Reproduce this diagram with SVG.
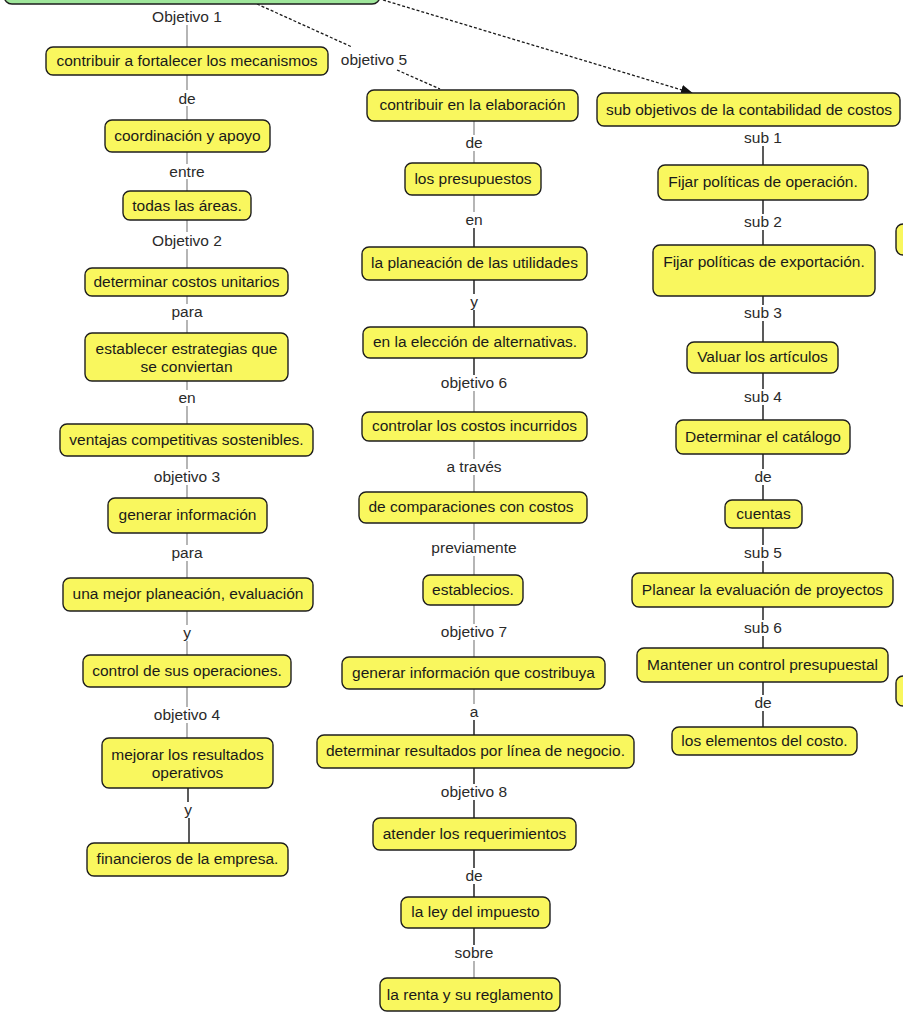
<svg xmlns="http://www.w3.org/2000/svg" width="903" height="1013" viewBox="0 0 903 1013">
<defs>
<marker id="ah" markerWidth="12" markerHeight="10" refX="11" refY="5" orient="auto" markerUnits="userSpaceOnUse">
<path d="M0,0 L12,5 L0,10 Z" fill="#111"/>
</marker>
</defs>
<style>
text{font-family:"Liberation Sans",Arial,sans-serif;font-size:15.5px;text-anchor:middle;fill:#1a1a1a}
.n rect{fill:#f9f75e;stroke:#1e1e1e;stroke-width:1.4}
.root rect{fill:#9fe69b;stroke:#1e1e1e;stroke-width:1.4}
.lab text{fill:#2a2a2a}
.g{stroke:#8e8e8e;stroke-width:1.3;fill:none}
.k{stroke:#151515;stroke-width:1.4;fill:none}
.d{stroke:#1a1a1a;stroke-width:1.3;stroke-dasharray:3 2;fill:none}
</style>
<rect width="903" height="1013" fill="#ffffff"/>

<g id="connectors">
<line class="d" x1="257" y1="4" x2="352" y2="47"/>
<line class="d" x1="397" y1="70" x2="440" y2="89"/>
<line class="d" x1="383" y1="0" x2="692" y2="93" marker-end="url(#ah)"/>
<line class="g" x1="187" y1="25" x2="187" y2="47"/>
<line class="g" x1="187" y1="75" x2="187" y2="90"/>
<line class="g" x1="187" y1="106" x2="187" y2="120"/>
<line class="g" x1="187" y1="152" x2="187" y2="164"/>
<line class="g" x1="187" y1="179" x2="187" y2="191"/>
<line class="g" x1="187" y1="220" x2="187" y2="232"/>
<line class="g" x1="187" y1="249" x2="187" y2="268"/>
<line class="g" x1="187" y1="296" x2="187" y2="304"/>
<line class="g" x1="187" y1="320" x2="187" y2="333"/>
<line class="g" x1="187" y1="381" x2="187" y2="390"/>
<line class="g" x1="187" y1="406" x2="187" y2="424"/>
<line class="g" x1="187" y1="456" x2="187" y2="469"/>
<line class="g" x1="187" y1="485" x2="187" y2="498"/>
<line class="g" x1="187" y1="533" x2="187" y2="545"/>
<line class="g" x1="187" y1="561" x2="187" y2="578"/>
<line class="g" x1="187" y1="611" x2="187" y2="625"/>
<line class="g" x1="187" y1="641" x2="187" y2="655"/>
<line class="g" x1="187" y1="687" x2="187" y2="707"/>
<line class="g" x1="187" y1="723" x2="187" y2="738"/>
<line class="k" x1="188" y1="788" x2="188" y2="802"/>
<line class="k" x1="189" y1="818" x2="189" y2="843"/>
<line class="g" x1="474" y1="121" x2="474" y2="135"/>
<line class="g" x1="474" y1="151" x2="474" y2="163"/>
<line class="g" x1="474" y1="195" x2="474" y2="212"/>
<line class="k" x1="474" y1="228" x2="474" y2="247"/>
<line class="k" x1="474" y1="280" x2="474" y2="294"/>
<line class="k" x1="474" y1="310" x2="474" y2="327"/>
<line class="k" x1="474" y1="358" x2="474" y2="375"/>
<line class="g" x1="474" y1="391" x2="474" y2="412"/>
<line class="g" x1="474" y1="441" x2="474" y2="459"/>
<line class="g" x1="474" y1="475" x2="474" y2="492"/>
<line class="g" x1="474" y1="523" x2="474" y2="540"/>
<line class="g" x1="474" y1="556" x2="474" y2="575"/>
<line class="g" x1="474" y1="605" x2="474" y2="624"/>
<line class="g" x1="474" y1="640" x2="474" y2="657"/>
<line class="g" x1="474" y1="689" x2="474" y2="704"/>
<line class="k" x1="474" y1="720" x2="474" y2="735"/>
<line class="k" x1="474" y1="768" x2="474" y2="784"/>
<line class="k" x1="474" y1="800" x2="474" y2="818"/>
<line class="k" x1="474" y1="850" x2="474" y2="868"/>
<line class="k" x1="474" y1="884" x2="474" y2="897"/>
<line class="k" x1="474" y1="928" x2="474" y2="945"/>
<line class="g" x1="474" y1="961" x2="474" y2="978"/>
<line class="k" x1="763" y1="146" x2="763" y2="165"/>
<line class="k" x1="763" y1="200" x2="763" y2="214"/>
<line class="k" x1="763" y1="230" x2="763" y2="245"/>
<line class="k" x1="763" y1="296" x2="763" y2="305"/>
<line class="k" x1="763" y1="321" x2="763" y2="342"/>
<line class="k" x1="763" y1="373" x2="763" y2="389"/>
<line class="k" x1="763" y1="405" x2="763" y2="420"/>
<line class="k" x1="763" y1="454" x2="763" y2="469"/>
<line class="k" x1="763" y1="485" x2="763" y2="500"/>
<line class="k" x1="763" y1="528" x2="763" y2="545"/>
<line class="k" x1="763" y1="561" x2="763" y2="573"/>
<line class="k" x1="763" y1="607" x2="763" y2="620"/>
<line class="k" x1="763" y1="636" x2="763" y2="648"/>
<line class="k" x1="763" y1="682" x2="763" y2="695"/>
<line class="k" x1="763" y1="711" x2="763" y2="727"/>
</g>

<g id="root" class="root"><rect x="4" y="-30" width="376" height="34" rx="8"/></g>

<g id="n_l1" class="n"><rect x="46" y="47" width="282" height="28" rx="7"/><text x="187" y="66">contribuir a fortalecer los mecanismos</text></g>
<g id="n_l2" class="n"><rect x="105" y="120" width="165" height="32" rx="7"/><text x="187.5" y="141">coordinación y apoyo</text></g>
<g id="n_l3" class="n"><rect x="123" y="191" width="128" height="29" rx="7"/><text x="187" y="211">todas las áreas.</text></g>
<g id="n_l4" class="n"><rect x="85" y="268" width="203" height="28" rx="7"/><text x="186.5" y="287">determinar costos unitarios</text></g>
<g id="n_l5" class="n"><rect x="85" y="333" width="203" height="48" rx="7"/><text x="186.5" y="354">establecer estrategias que</text><text x="186.5" y="372">se conviertan</text></g>
<g id="n_l6" class="n"><rect x="60" y="424" width="253" height="32" rx="7"/><text x="186.5" y="445">ventajas competitivas sostenibles.</text></g>
<g id="n_l7" class="n"><rect x="108" y="498" width="159" height="35" rx="7"/><text x="187.5" y="520">generar información</text></g>
<g id="n_l8" class="n"><rect x="63" y="578" width="250" height="33" rx="7"/><text x="188" y="599">una mejor planeación, evaluación</text></g>
<g id="n_l9" class="n"><rect x="83" y="655" width="208" height="32" rx="7"/><text x="187" y="676">control de sus operaciones.</text></g>
<g id="n_l10" class="n"><rect x="102" y="738" width="171" height="50" rx="7"/><text x="187.5" y="760">mejorar los resultados</text><text x="187.5" y="778">operativos</text></g>
<g id="n_l11" class="n"><rect x="87" y="843" width="201" height="33" rx="7"/><text x="187.5" y="864">financieros de la empresa.</text></g>

<g id="n_m1" class="n"><rect x="367" y="90" width="211" height="31" rx="7"/><text x="472.5" y="110">contribuir en la elaboración</text></g>
<g id="n_m2" class="n"><rect x="405" y="163" width="136" height="32" rx="7"/><text x="473" y="184">los presupuestos</text></g>
<g id="n_m3" class="n"><rect x="362" y="247" width="225" height="33" rx="7"/><text x="474.5" y="268">la planeación de las utilidades</text></g>
<g id="n_m4" class="n"><rect x="363" y="327" width="224" height="31" rx="7"/><text x="475" y="347">en la elección de alternativas.</text></g>
<g id="n_m5" class="n"><rect x="362" y="412" width="225" height="29" rx="7"/><text x="474.5" y="431">controlar los costos incurridos</text></g>
<g id="n_m6" class="n"><rect x="359" y="492" width="228" height="31" rx="7"/><text x="471" y="512">de comparaciones con costos</text></g>
<g id="n_m7" class="n"><rect x="423" y="575" width="100" height="30" rx="7"/><text x="473" y="595">establecios.</text></g>
<g id="n_m8" class="n"><rect x="342" y="657" width="263" height="32" rx="7"/><text x="473.5" y="678">generar información que costribuya</text></g>
<g id="n_m9" class="n"><rect x="317" y="735" width="317" height="33" rx="7"/><text x="475.5" y="756">determinar resultados por línea de negocio.</text></g>
<g id="n_m10" class="n"><rect x="373" y="818" width="203" height="32" rx="7"/><text x="474.5" y="839">atender los requerimientos</text></g>
<g id="n_m11" class="n"><rect x="401" y="897" width="149" height="31" rx="7"/><text x="475.5" y="917">la ley del impuesto</text></g>
<g id="n_m12" class="n"><rect x="380" y="978" width="180" height="33" rx="7"/><text x="470" y="1000">la renta y su reglamento</text></g>

<g id="n_r1" class="n"><rect x="597" y="93" width="303" height="33" rx="7"/><text x="749" y="115">sub objetivos de la contabilidad de costos</text></g>
<g id="n_r2" class="n"><rect x="658" y="165" width="210" height="35" rx="7"/><text x="763" y="187">Fijar políticas de operación.</text></g>
<g id="n_r3" class="n"><rect x="653" y="245" width="222" height="51" rx="7"/><text x="764" y="267">Fijar políticas de exportación.</text></g>
<g id="n_r4" class="n"><rect x="687" y="342" width="151" height="31" rx="7"/><text x="762.5" y="362">Valuar los artículos</text></g>
<g id="n_r5" class="n"><rect x="676" y="420" width="174" height="34" rx="7"/><text x="763" y="442">Determinar el catálogo</text></g>
<g id="n_r6" class="n"><rect x="725" y="500" width="77" height="28" rx="7"/><text x="763.5" y="519">cuentas</text></g>
<g id="n_r7" class="n"><rect x="632" y="573" width="261" height="34" rx="7"/><text x="762.5" y="595">Planear la evaluación de proyectos</text></g>
<g id="n_r8" class="n"><rect x="637" y="648" width="251" height="34" rx="7"/><text x="762.5" y="670">Mantener un control presupuestal</text></g>
<g id="n_r9" class="n"><rect x="672" y="727" width="185" height="28" rx="7"/><text x="764.5" y="746">los elementos del costo.</text></g>

<g id="n_edge1" class="n"><rect x="896" y="224" width="30" height="31" rx="7"/></g>
<g id="n_edge2" class="n"><rect x="896" y="676" width="30" height="30" rx="7"/></g>

<g id="labels" class="lab">
<text x="187" y="22">Objetivo 1</text>
<text x="187" y="104">de</text>
<text x="187" y="177">entre</text>
<text x="187" y="246">Objetivo 2</text>
<text x="187" y="317">para</text>
<text x="187" y="403">en</text>
<text x="187" y="482">objetivo 3</text>
<text x="187" y="558">para</text>
<text x="187" y="638">y</text>
<text x="187" y="720">objetivo 4</text>
<text x="188" y="815">y</text>
<text x="374" y="65">objetivo 5</text>
<text x="474" y="148">de</text>
<text x="474" y="225">en</text>
<text x="474" y="307">y</text>
<text x="474" y="388">objetivo 6</text>
<text x="474" y="472">a través</text>
<text x="474" y="553">previamente</text>
<text x="474" y="637">objetivo 7</text>
<text x="474" y="717">a</text>
<text x="474" y="797">objetivo 8</text>
<text x="474" y="881">de</text>
<text x="474" y="958">sobre</text>
<text x="763" y="143">sub 1</text>
<text x="763" y="227">sub 2</text>
<text x="763" y="318">sub 3</text>
<text x="763" y="402">sub 4</text>
<text x="763" y="482">de</text>
<text x="763" y="558">sub 5</text>
<text x="763" y="633">sub 6</text>
<text x="763" y="708">de</text>
</g>
</svg>
